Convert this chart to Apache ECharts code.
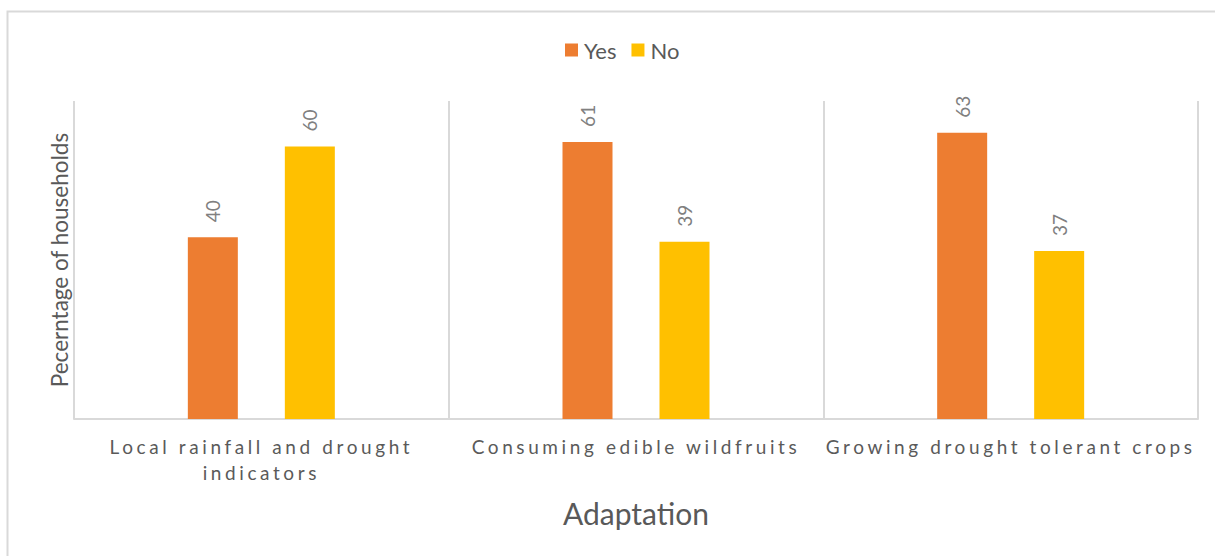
<!DOCTYPE html>
<html>
<head>
<meta charset="utf-8">
<script src="https://cdn.jsdelivr.net/npm/echarts@6/dist/echarts.min.js"></script>
<style>
  html, body { margin: 0; padding: 0; background: #fff; }
  #chart { width: 1215px; height: 556px; }
  /* tracked-out category labels (picked out by their fill colour) */
  #chart text[fill="#5a5a5a"] { letter-spacing: 3.6px; }
</style>
</head>
<body>
<div id="chart"></div>
<script>
// Household adaptation responses
const categories = [
  'Local rainfall and drought\nindicators',
  'Consuming edible wildfruits',
  'Growing drought tolerant crops'
];
const yesValues = [40, 61, 63];
const noValues = [60, 39, 37];
const seriesNames = ['Yes', 'No'];

const FONT = 'Lato, "Open Sans", sans-serif';
const TEXT = '#595959';
const CAT_TEXT = '#5a5a5a';
const LINE = '#d9d9d9';

const chart = echarts.init(document.getElementById('chart'), null, { renderer: 'svg' });

const barLabel = {
  show: true,
  position: 'top',
  rotate: 90,
  align: 'left',
  verticalAlign: 'middle',
  distance: 15,
  color: '#808080',
  fontFamily: FONT,
  fontSize: 19
};

chart.setOption({
  animation: false,
  backgroundColor: '#fff',
  graphic: [{
    type: 'rect',
    shape: { x: 7.5, y: 11.5, width: 1400, height: 700 },
    style: { fill: 'none', stroke: LINE, lineWidth: 2 },
    silent: true,
    z: -1
  }],
  legend: {
    data: seriesNames,
    top: 34,
    left: 560,
    itemWidth: 13,
    itemHeight: 13,
    itemGap: 15,
    icon: 'rect',
    textStyle: { color: TEXT, fontFamily: FONT, fontSize: 22, padding: [0, 0, 0, 1] }
  },
  grid: { left: 74, right: 17, top: 101, bottom: 137, containLabel: false },
  xAxis: {
    type: 'category',
    data: categories,
    name: 'Adaptation',
    nameLocation: 'middle',
    nameGap: 79,
    nameTextStyle: { color: TEXT, fontFamily: FONT, fontSize: 30 },
    axisLine: { show: true, lineStyle: { color: LINE, width: 2 } },
    axisTick: { show: false },
    splitLine: { show: true, interval: 0, lineStyle: { color: LINE, width: 2 } },
    axisLabel: {
      interval: 0,
      margin: 14,
      color: CAT_TEXT,
      fontFamily: FONT,
      fontSize: 19,
      lineHeight: 26
    }
  },
  yAxis: {
    type: 'value',
    min: 0,
    max: 70,
    name: 'Pecerntage of households',
    nameLocation: 'middle',
    nameGap: 3,
    nameTextStyle: { color: TEXT, fontFamily: FONT, fontSize: 22.5 },
    axisLine: { show: false },
    axisTick: { show: false },
    axisLabel: { show: false },
    splitLine: { show: false }
  },
  series: [
    {
      name: seriesNames[0],
      type: 'bar',
      data: yesValues,
      barWidth: 50,
      barGap: '94%',
      itemStyle: { color: '#ED7D31' },
      label: barLabel
    },
    {
      name: seriesNames[1],
      type: 'bar',
      data: noValues,
      barWidth: 50,
      barGap: '94%',
      itemStyle: { color: '#FFC000' },
      label: barLabel
    }
  ]
});
</script>
</body>
</html>
